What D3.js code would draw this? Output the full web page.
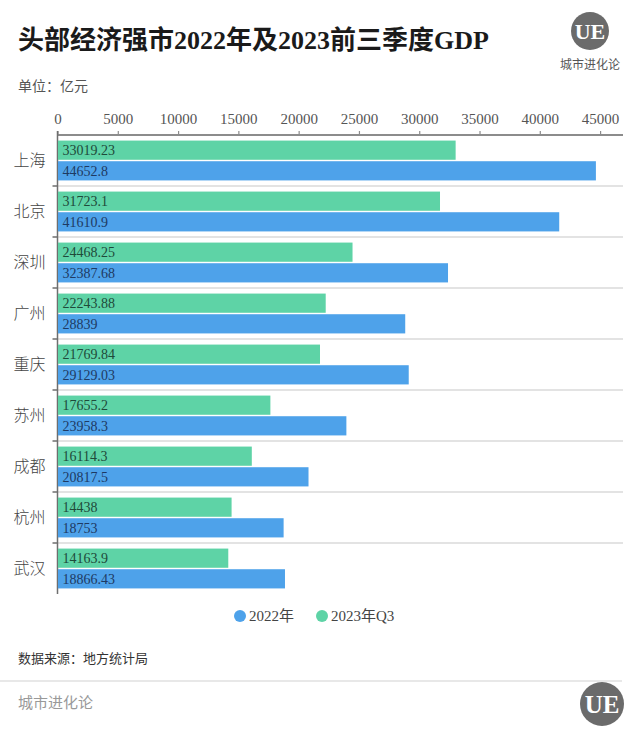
<!DOCTYPE html>
<html><head><meta charset="utf-8">
<script src="https://cdn.jsdelivr.net/npm/d3@7"></script>
<style>
body{margin:0;background:#fff;}
svg text{font-family:"Liberation Serif","Noto Sans CJK SC",serif;}
</style></head>
<body>
<svg id="chart" width="640" height="747"></svg>
<script>
const cities = ["上海","北京","深圳","广州","重庆","苏州","成都","杭州","武汉"];
const gdp2023Q3 = [33019.23,31723.1,24468.25,22243.88,21769.84,17655.2,16114.3,14438,14163.9];
const gdp2022 = [44652.8,41610.9,32387.68,28839,29129.03,23958.3,20817.5,18753,18866.43];
const xTicks = [0,5000,10000,15000,20000,25000,30000,35000,40000,45000];
const seriesNames = ["2022年","2023年Q3"];
const colors = {"2022年":"#4ea2ea","2023年Q3":"#5ed3a6"};
const textColors = {"2022年":"#1e3a63","2023年Q3":"#1f4a3a"};

(function(){
const svg = d3.select("#chart");
svg.append("rect").attr("width",640).attr("height",747).attr("fill","#fff");

// Title
svg.append("text").attr("x",18).attr("y",49).attr("font-size",26).attr("font-weight","bold")
  .attr("fill","#1a1a1a").text("头部经济强市2022年及2023前三季度GDP");
svg.append("text").attr("x",18).attr("y",91).attr("font-size",14).attr("fill","#555").text("单位：亿元");

// Logo top-right
const lg = svg.append("g");
lg.append("circle").attr("cx",590).attr("cy",31).attr("r",19).attr("fill","#6b6b6b");
lg.append("text").attr("x",590).attr("y",39).attr("text-anchor","middle").attr("font-size",22)
  .attr("font-weight","bold").attr("fill","#fff").attr("font-family","DejaVu Sans").text("UE");
lg.append("text").attr("x",590).attr("y",69).attr("text-anchor","middle").attr("font-size",12)
  .attr("fill","#555").text("城市进化论");

const x0 = 57.5, x1 = 623, yTop = 135, yBottom = 594;
const x = d3.scaleLinear().domain([0,46900]).range([x0,x1]);
const y = d3.scaleBand().domain(cities).range([yTop,yBottom]).paddingInner(0).paddingOuter(0);
const sub = d3.scaleBand().domain(["2023年Q3","2022年"]).range([0,y.bandwidth()]).paddingInner(0.07).paddingOuter(0.27);

// gridlines at band boundaries
svg.append("g").selectAll("line").data(cities.slice(1)).join("line")
  .attr("x1",x0).attr("x2",x1).attr("y1",d=>y(d)).attr("y2",d=>y(d))
  .attr("stroke","#e3e3e3").attr("stroke-width",2);

// top axis
const xAxis = d3.axisTop(x).tickValues(xTicks).tickSize(4).tickPadding(7).tickFormat(d3.format("d"));
const gx = svg.append("g").attr("transform",`translate(0,${yTop})`).call(xAxis);
gx.select(".domain").attr("stroke","#8c8c8c").attr("stroke-width",2).attr("d",`M${x0},0H${x1}`);
gx.selectAll(".tick line").attr("stroke","#8c8c8c").attr("stroke-width",1.2);
gx.selectAll(".tick text").attr("font-size",15).attr("fill","#555").attr("font-family","Liberation Serif");

// left axis
const yAxis = d3.axisLeft(y).tickSize(0).tickPadding(12);
const gy = svg.append("g").attr("transform",`translate(${x0},0)`).call(yAxis);
gy.select(".domain").attr("stroke","#6e6e6e").attr("stroke-width",1.5).attr("d",`M0,${yTop-4}V${yBottom}`);
gy.selectAll(".tick text").attr("font-size",16).attr("fill","#444").attr("font-family","Noto Sans CJK SC").attr("font-weight",300);
svg.append("g").selectAll("line").data(cities.slice(1)).join("line")
  .attr("x1",x0-5).attr("x2",x0).attr("y1",d=>y(d)).attr("y2",d=>y(d))
  .attr("stroke","#6e6e6e").attr("stroke-width",1.5);

// bars
const rows = [];
cities.forEach((c,i)=>{
  rows.push({city:c,series:"2023年Q3",value:gdp2023Q3[i]});
  rows.push({city:c,series:"2022年",value:gdp2022[i]});
});
const bars = svg.append("g");
bars.selectAll("rect").data(rows).join("rect")
  .attr("x",x(0)+0.5).attr("y",d=>y(d.city)+sub(d.series))
  .attr("width",d=>x(d.value)-x(0)-0.5).attr("height",sub.bandwidth())
  .attr("fill",d=>colors[d.series]);
bars.selectAll("text").data(rows).join("text")
  .attr("x",x(0)+5).attr("y",d=>y(d.city)+sub(d.series)+sub.bandwidth()/2+5)
  .attr("font-size",14).attr("fill",d=>textColors[d.series]).text(d=>d.value);

// legend
const legend = svg.append("g");
const legItems = [{name:"2022年",cx:240},{name:"2023年Q3",cx:322}];
legItems.forEach(it=>{
  legend.append("circle").attr("cx",it.cx).attr("cy",616).attr("r",6).attr("fill",colors[it.name]);
  legend.append("text").attr("x",it.cx+9).attr("y",621).attr("font-size",15).attr("fill","#444").text(it.name);
});

// source
svg.append("text").attr("x",18).attr("y",663).attr("font-size",13).attr("fill","#333").text("数据来源：地方统计局");
svg.append("line").attr("x1",0).attr("x2",622).attr("y1",681).attr("y2",681).attr("stroke","#e0e0e0").attr("stroke-width",1.5);
svg.append("text").attr("x",18).attr("y",708).attr("font-size",15).attr("fill","#999").text("城市进化论");
svg.append("circle").attr("cx",602).attr("cy",704).attr("r",22).attr("fill","#6b6b6b");
svg.append("text").attr("x",602).attr("y",713).attr("text-anchor","middle").attr("font-size",25)
  .attr("font-weight","bold").attr("fill","#fff").attr("font-family","DejaVu Sans").text("UE");
})();
</script>
</body></html>
